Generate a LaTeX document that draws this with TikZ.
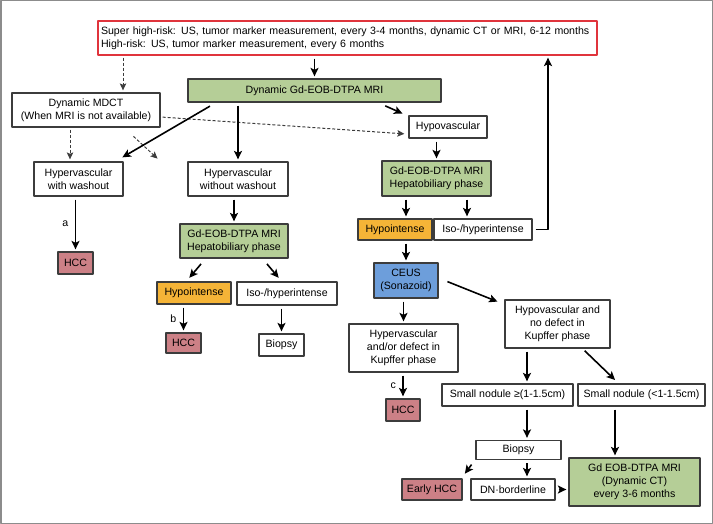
\documentclass[tikz,border=0pt]{standalone}
\usepackage{fontspec}
\setmainfont{Liberation Sans}
\usetikzlibrary{arrows.meta,positioning}
\definecolor{mrigreen}{RGB}{181,206,151}
\definecolor{hypoorange}{RGB}{245,180,55}
\definecolor{ceusblue}{RGB}{109,158,219}
\definecolor{hccred}{RGB}{204,128,134}
\definecolor{riskred}{RGB}{224,52,60}
\definecolor{boxgray}{RGB}{60,60,60}
\definecolor{framegray}{RGB}{140,140,140}
\begin{document}
\begin{tikzpicture}[x=1pt, y=-1pt, font=\fontsize{10.6}{13}\selectfont, line join=round,
	sz/.style 2 args={minimum width=#1pt, minimum height=#2pt},
	box/.style={draw=boxgray, line width=1.3pt, fill=white, inner sep=1pt, align=center},
	mribox/.style={box, fill=mrigreen},
	hypobox/.style={box, fill=hypoorange},
	ceusbox/.style={box, fill=ceusblue},
	hccbox/.style={box, fill=hccred},
	arr/.style={-{Stealth[length=8.5pt,width=8pt,inset=2pt]}, line width=1.6pt, shorten <=3pt, shorten >=2pt},
	darr/.style={-{Stealth[length=7pt,width=6.5pt,inset=1.5pt]}, dashed, dash pattern=on 3pt off 2pt, line width=1pt, draw=boxgray, shorten <=2pt, shorten >=2pt}]
	\useasboundingbox (0,0) rectangle (713,524);
	\draw[framegray, line width=1.5pt] (0.75,0.75) rectangle (712.25,523.25);
	% surveillance
	\node[box, draw=riskred, sz={499}{34}, text width=493pt, inner xsep=3pt, align=left] (risk) at (347.5,38)
		{Super high-risk: US, tumor marker measurement, every 3-4 months, dynamic CT or MRI, 6-12 months\\High-risk: US, tumor marker measurement, every 6 months};
	\node[mribox, sz={253}{23}] (mri) at (314.5,90.5) {Dynamic Gd-EOB-DTPA MRI};
	\node[box, sz={148}{34}] (mdct) at (86,110) {Dynamic MDCT\\(When MRI is not available)};
	\node[box, sz={78}{22}] (hypo) at (448,127) {Hypovascular};
	% left branch
	\node[box, sz={89}{34}] (washY) at (78.5,179) {Hypervascular\\with washout};
	\node[hccbox, sz={35}{22}] (hccA) at (75.5,263) {HCC};
	% middle branch
	\node[box, sz={100}{34}] (washN) at (238,179) {Hypervascular\\without washout};
	\node[mribox, sz={108}{34}] (gdM) at (234,241) {Gd-EOB-DTPA MRI\\Hepatobiliary phase};
	\node[hypobox, sz={74}{22}] (hypoiM) at (194,293) {Hypointense};
	\node[box, sz={100}{23}] (isoM) at (287,293.5) {Iso-/hyperintense};
	\node[hccbox, sz={35}{20}] (hccB) at (183.5,343) {HCC};
	\node[box, sz={45}{22}] (biopM) at (281.5,345) {Biopsy};
	% right branch
	\node[mribox, sz={109}{35}] (gdR) at (436.5,178.5) {Gd-EOB-DTPA MRI\\Hepatobiliary phase};
	\node[hypobox, sz={74}{21}] (hypoiR) at (395,229.5) {Hypointense};
	\node[box, sz={98}{21}] (isoR) at (483,229.5) {Iso-/hyperintense};
	\node[ceusbox, sz={64}{35}] (ceus) at (406,280.5) {CEUS\\(Sonazoid)};
	\node[box, sz={109}{48}] (hyperK) at (403.5,348) {Hypervascular\\and/or defect in\\Kupffer phase};
	\node[box, sz={105}{48}] (hypoK) at (557.5,324) {Hypovascular and\\no defect in\\Kupffer phase};
	\node[hccbox, sz={34}{22}] (hccC) at (403,410) {HCC};
	\node[box, sz={131}{22}] (smallA) at (507.5,395) {Small nodule ≥(1-1.5cm)};
	\node[box, sz={127}{22}] (smallB) at (641.5,395) {Small nodule (<1-1.5cm)};
	\node[box, sz={85}{19}] (biopR) at (518.5,450) {Biopsy};
	\node[hccbox, sz={60}{21}] (early) at (432,489.5) {Early HCC};
	\node[box, sz={84}{21}] (dn) at (513,489.5) {DN·borderline};
	\node[mribox, sz={131}{48}] (gdB) at (634.5,482) {Gd EOB-DTPA MRI\\(Dynamic CT)\\every 3-6 months};
	% arrow columns
	\coordinate (colMdct) at (123,0);
	\coordinate (colWash) at (70,0);
	\coordinate (colIso) at (467,0);
	\coordinate (colA) at (527,0);
	\coordinate (colB) at (615,0);
	\coordinate (back) at (548,0);
	\coordinate (freeS) at (132,135);
	\coordinate (freeE) at (159,160);
	% connectors
	\draw[arr] (risk.south -| mri.north) -- (mri.north);
	\draw[darr] (risk.south -| colMdct) -- (mdct.north -| colMdct);
	\draw[darr] ([yshift=-7pt]mdct.east) -- ([xshift=-2pt,yshift=-7pt]hypo.west);
	\draw[darr] (mdct.south -| colWash) -- (washY.north -| colWash);
	\draw[darr] (freeS) -- (freeE);
	\draw[arr] ([xshift=-102pt,yshift=-2pt]mri.south) -- ([xshift=-3pt,yshift=3pt]washY.north east);
	\draw[arr] (mri.south -| washN.north) -- (washN.north);
	\draw[arr] ([xshift=68pt,yshift=-2pt]mri.south) -- ([xshift=-4pt,yshift=1pt]hypo.north west);
	\draw[arr] (washY.south -| hccA.north) -- node[left=3pt] {a} (hccA.north);
	\draw[arr] (washN.south -| gdM.north) -- (gdM.north);
	\draw[arr] ([xshift=-31pt,yshift=-3pt]gdM.south) -- ([xshift=-6pt,yshift=2pt]hypoiM.north);
	\draw[arr] ([xshift=31pt,yshift=-3pt]gdM.south) -- ([xshift=-7pt,yshift=2pt]isoM.north);
	\draw[arr] (hypoiM.south -| hccB.north) -- node[left=3pt] {b} (hccB.north);
	\draw[arr] (isoM.south -| biopM.north) -- (biopM.north);
	\draw[arr] (hypo.south -| gdR.north) -- (gdR.north);
	\draw[arr] (gdR.south -| ceus.north) -- (hypoiR.north -| ceus.north);
	\draw[arr] (gdR.south -| colIso) -- (isoR.north -| colIso);
	\draw[arr] (isoR.east) -| (risk.south -| back);
	\draw[arr] (hypoiR.south -| ceus.north) -- (ceus.north);
	\draw[arr] (ceus.south -| hyperK.north) -- (hyperK.north);
	\draw[arr] ([xshift=6pt]ceus.east) -- ([xshift=-5pt,yshift=-3pt]hypoK.north west);
	\draw[arr] (hyperK.south -| hccC.north) -- node[left=3pt] {c} (hccC.north);
	\draw[arr] (hypoK.south -| colA) -- (smallA.north -| colA);
	\draw[arr] ([xshift=25pt]hypoK.south) -- ([xshift=-25pt,yshift=2pt]smallB.north);
	\draw[arr] (smallA.south -| colA) -- (biopR.north -| colA);
	\draw[arr] (smallB.south -| colB) -- (gdB.north -| colB);
	\draw[arr] ([xshift=-2pt,yshift=-2pt]biopR.south west) -- ([xshift=1pt,yshift=3pt]early.north east);
	\draw[arr] (biopR.south -| colA) -- (dn.north -| colA);
	\draw[arr] (dn.east) -- (dn.east -| gdB.west);
\end{tikzpicture}
\end{document}
